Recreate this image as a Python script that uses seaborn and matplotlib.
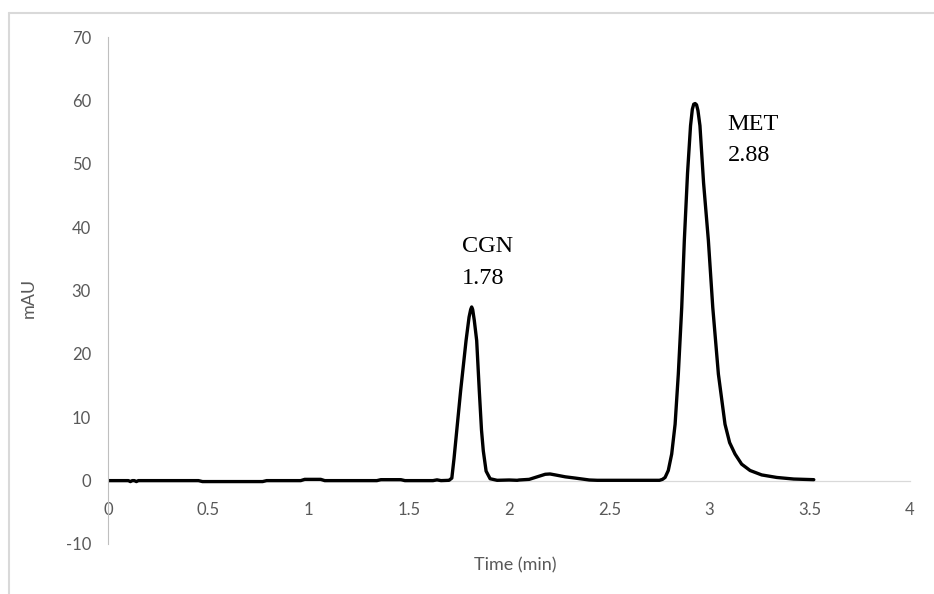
import matplotlib
matplotlib.use("Agg")
import matplotlib.pyplot as plt
import seaborn as sns
import pandas as pd
from matplotlib.lines import Line2D

# ---- data ----
time_min = [
    0.00, 0.10, 0.11, 0.12, 0.13, 0.14, 0.15, 0.45, 0.47, 0.77, 0.79, 0.96, 0.98,
    1.06, 1.08, 1.34, 1.36, 1.46, 1.48, 1.62, 1.64, 1.66, 1.70,
    1.714, 1.725, 1.758, 1.785, 1.800, 1.808, 1.813, 1.818, 1.826, 1.838, 1.851,
    1.862, 1.871, 1.885, 1.905, 1.94,
    2.00, 2.04, 2.05, 2.10, 2.14, 2.18, 2.204, 2.23, 2.28, 2.33, 2.40, 2.44,
    2.60, 2.70, 2.75, 2.765,
    2.778, 2.794, 2.811, 2.828, 2.844, 2.861, 2.874, 2.89, 2.905, 2.914, 2.921,
    2.928, 2.935, 2.942, 2.952, 2.97, 2.994, 3.016, 3.044, 3.077, 3.10, 3.127,
    3.16, 3.202, 3.26, 3.335, 3.42, 3.52,
]
absorbance = [
    0.0, 0.0, -0.15, 0.0, 0.0, -0.15, 0.0, 0.0, -0.15, -0.15, 0.0, 0.0, 0.2,
    0.2, 0.0, 0.0, 0.15, 0.15, 0.0, 0.0, 0.12, 0.0, 0.05,
    0.4, 3.5, 14.2, 22.1, 25.8, 27.0, 27.4, 27.0, 25.3, 22.1, 14.2,
    8.0, 4.7, 1.5, 0.3, 0.05,
    0.1, 0.05, 0.1, 0.2, 0.6, 1.0, 1.05, 0.9, 0.6, 0.4, 0.1, 0.05,
    0.05, 0.05, 0.05, 0.2,
    0.5, 1.6, 4.2, 8.9, 16.8, 27.3, 37.9, 48.5, 56.0, 58.6, 59.4,
    59.5, 59.3, 58.4, 56.0, 47.0, 37.9, 27.3, 16.8, 8.9, 6.0, 4.2,
    2.6, 1.6, 0.9, 0.5, 0.25, 0.15,
]
peak_names = ["CGN", "MET"]
peak_times = ["1.78", "2.88"]
x_ticks = [0, 0.5, 1, 1.5, 2, 2.5, 3, 3.5, 4]
x_tick_labels = ["0", "0.5", "1", "1.5", "2", "2.5", "3", "3.5", "4"]
y_ticks = [-10, 0, 10, 20, 30, 40, 50, 60, 70]
y_tick_labels = ["-10", "0", "10", "20", "30", "40", "50", "60", "70"]

# ---- styling ----
sns.set_theme(style="white")
plt.rcParams['font.family'] = ['Lato', 'DejaVu Sans']

W, H = 934, 594
fig = plt.figure(figsize=(W / 100, H / 100), dpi=100)
ax = fig.add_axes([108.3 / W, 1 - 544 / H, (910 - 108.3) / W, (544 - 37) / H])

df = pd.DataFrame({"Time (min)": time_min, "mAU": absorbance})
sns.lineplot(data=df, x="Time (min)", y="mAU", ax=ax, color="black",
             linewidth=2.4, sort=False, estimator=None)
ax.lines[0].set_solid_joinstyle("round")
ax.lines[0].set_solid_capstyle("round")

ax.set_xlim(0, 4)
ax.set_ylim(-10, 70)
ax.set_xticks(x_ticks)
ax.set_xticklabels(x_tick_labels)
ax.set_yticks(y_ticks)
ax.set_yticklabels(y_tick_labels)

for s in ["top", "right"]:
    ax.spines[s].set_visible(False)
ax.spines["left"].set_color("#bfbfbf")
ax.spines["left"].set_linewidth(0.8)
ax.spines["bottom"].set_position(("data", 0))
ax.spines["bottom"].set_color("#d9d9d9")
ax.spines["bottom"].set_linewidth(0.9)
ax.spines["bottom"].set_zorder(0)

ax.tick_params(axis="x", length=0, pad=15.5, labelsize=12, labelcolor="#595959")
ax.tick_params(axis="y", length=0, pad=12.5, labelsize=12, labelcolor="#595959")

ax.set_xlabel("Time (min)", fontsize=13, color="#595959")
ax.set_ylabel("mAU", fontsize=13, color="#595959")
ax.xaxis.set_label_coords(0.507, -0.026)
ax.yaxis.set_label_coords(-0.089, 0.485)

# peak annotations
serif = dict(family=["Liberation Serif", "DejaVu Serif"], fontsize=17.5,
             color="black", ha="left", va="baseline")
label_pos = [(1.763, 36.0, 31.0), (3.089, 55.3, 50.5)]
for name, rt, (lx, y1, y2) in zip(peak_names, peak_times, label_pos):
    ax.text(lx, y1, name, **serif)
    ax.text(lx, y2, rt, **serif)

# chart-area border (cropped at right/bottom like the reference)
bx, by = 9 / W, 1 - 13 / H
fig.add_artist(Line2D([bx, 1.01], [by, by], transform=fig.transFigure,
                      color="#d9d9d9", linewidth=1.5))
fig.add_artist(Line2D([bx, bx], [by, -0.01], transform=fig.transFigure,
                      color="#d9d9d9", linewidth=1.5))

fig.savefig("out.png", dpi=100, facecolor="white")
